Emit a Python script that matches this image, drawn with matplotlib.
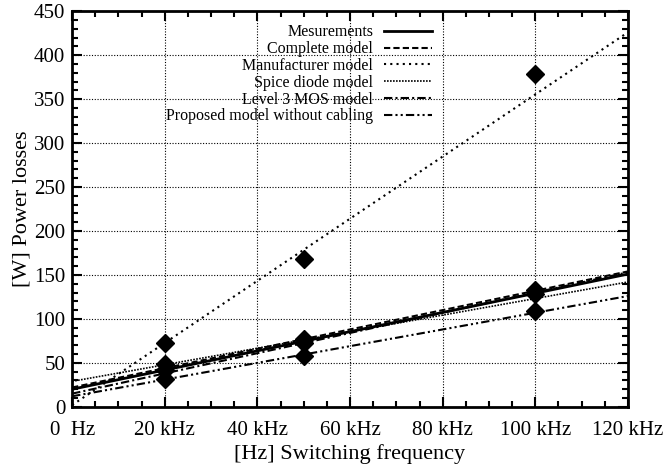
import numpy as np
import matplotlib.pyplot as plt
from matplotlib.ticker import MultipleLocator

plt.rcParams['font.family'] = ['Liberation Serif', 'DejaVu Serif']

# line end points (kHz -> W)
line_f = [0, 120]
mesurements = [20, 151]
complete_model = [22, 154]
manufacturer_model = [2, 426]
spice_diode_model = [29, 142]
level3_mos_model = [15, 153]
proposed_no_cabling = [12, 126]

# measured / simulated points
point_f = [20, 50, 100]
points_manufacturer = [73, 168, 378]
points_complete = [49, 77, 133]
points_spice = [42, 73, 128]
points_proposed = [32, 58, 109]

x_ticks = [0, 20, 40, 60, 80, 100, 120]
x_labels = ['0  Hz', '20 kHz', '40 kHz', '60 kHz', '80 kHz', '100 kHz', '120 kHz']

fig = plt.figure(figsize=(6.68, 4.66), dpi=100)
ax = fig.add_axes([0.108, 0.127, 0.832, 0.849])

ax.plot(line_f, mesurements, color='black', lw=2.0, ls='-', label='Mesurements')
ax.plot(line_f, complete_model, color='black', lw=1.5, ls=(0, (3, 1.5)), label='Complete model')
ax.plot(line_f, manufacturer_model, color='black', lw=1.5, ls=(0, (1, 2)), label='Manufacturer model')
ax.plot(line_f, spice_diode_model, color='black', lw=1.2, ls=(0, (1, 0.8)), label='Spice diode model')
ax.plot(line_f, level3_mos_model, color='black', lw=1.5, ls=(0, (4, 1.5, 1, 1.5)), label='Level 3 MOS model')
ax.plot(line_f, proposed_no_cabling, color='black', lw=1.5, ls=(0, (4, 1.5, 1, 1.5, 1, 1.5)),
        label='Proposed model without cabling')

for pts in [points_manufacturer, points_complete, points_spice, points_proposed]:
    ax.plot(point_f, pts, ls='none', marker='D', ms=9, color='black')

ax.set_xlim(0, 120)
ax.set_ylim(0, 450)
ax.set_xticks(x_ticks)
ax.set_xticklabels(x_labels)
ax.xaxis.set_minor_locator(MultipleLocator(5))
ax.yaxis.set_major_locator(MultipleLocator(50))
ax.yaxis.set_minor_locator(MultipleLocator(10))
ax.tick_params(which='both', direction='in', top=True, right=True, labelsize=15, width=1.5)
ax.tick_params(which='major', length=7)
ax.tick_params(which='minor', length=4)
ax.tick_params(axis='x', pad=10)
ax.tick_params(axis='y', pad=5)
for s in ax.spines.values():
    s.set_linewidth(2)

ax.grid(True, which='major', color='black', ls=(0, (1, 1.5)), lw=0.8)
ax.set_xlabel('[Hz] Switching frequency', fontsize=16, labelpad=3)
ax.set_ylabel('[W] Power losses', fontsize=16, labelpad=2)

leg = ax.legend(loc='upper right', bbox_to_anchor=(0.668, 0.995), frameon=False, markerfirst=False,
                fontsize=11.5, handlelength=3.0, labelspacing=0.05, borderpad=0.2, handletextpad=0.7)
for t in leg.get_texts():
    t.set_ha('right')

fig.savefig('out.png', dpi=100)
